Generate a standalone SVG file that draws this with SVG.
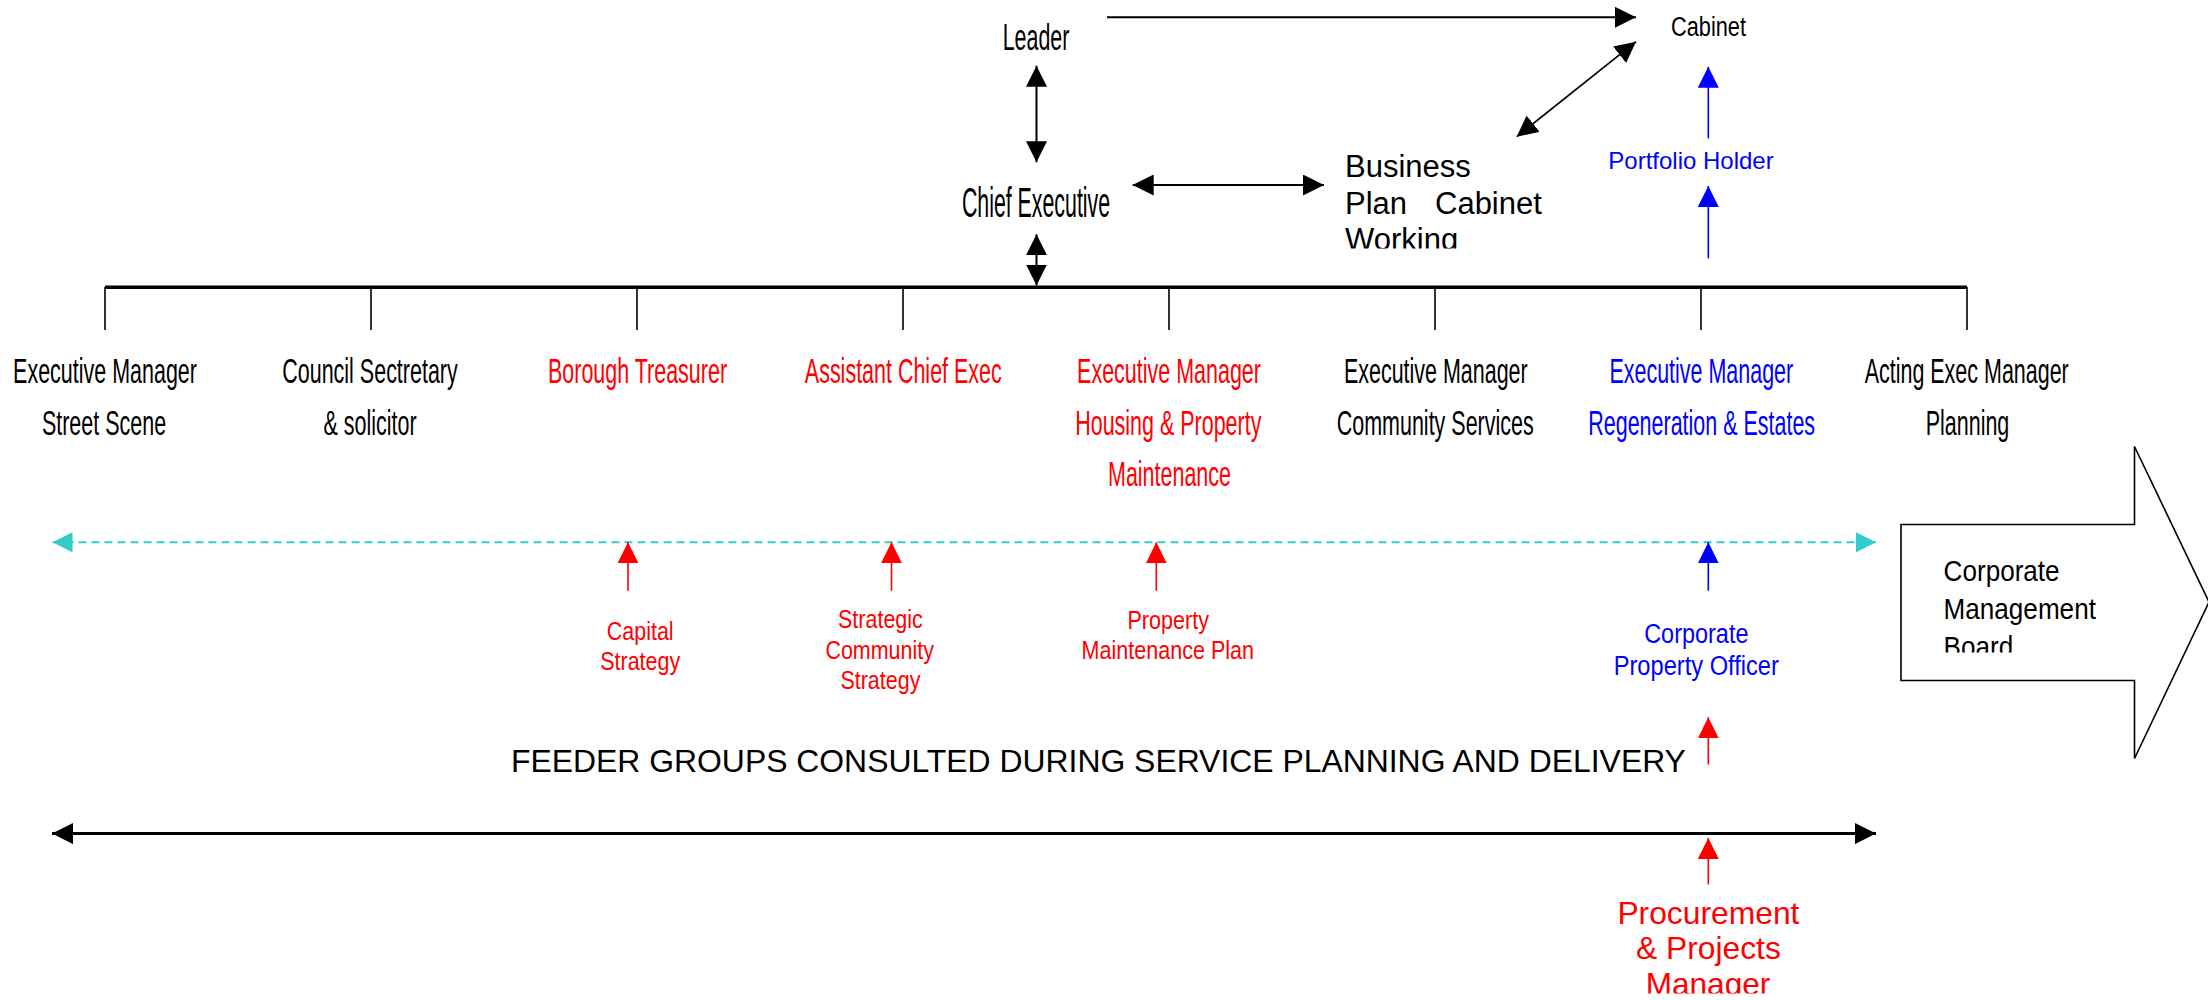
<svg xmlns="http://www.w3.org/2000/svg" width="2208" height="1000" viewBox="0 0 2208 1000">
<style>
text{font-family:"Liberation Sans",Arial,sans-serif}
.n{font-size:36px;text-anchor:middle}
.ce{font-size:42px;text-anchor:middle}
.s{font-size:26px;text-anchor:middle}
.m{font-size:28px;text-anchor:middle}
.w{font-size:31px}
.k{fill:#000}.r{fill:#f00}.b{fill:#00f}
.ln{stroke:#000;stroke-width:2;fill:none}
.thin{stroke:#000;stroke-width:1.6;fill:none}
.bar{stroke:#000;stroke-width:3.5;fill:none}
.rd{stroke:#f00;stroke-width:1.6;fill:none}
.bl{stroke:#00f;stroke-width:1.6;fill:none}
.cy{stroke:#33cccc;stroke-width:2;stroke-dasharray:8 5;fill:none}
.thick{stroke:#000;stroke-width:3;fill:none}
</style>
<defs>
<marker id="ak" markerUnits="userSpaceOnUse" markerWidth="21" markerHeight="21" viewBox="0 0 21 21" refX="21" refY="10.5" orient="auto-start-reverse"><path d="M0,0 L21,10.5 L0,21 z" fill="#000"/></marker>
<marker id="ar" markerUnits="userSpaceOnUse" markerWidth="21" markerHeight="21" viewBox="0 0 21 21" refX="21" refY="10.5" orient="auto-start-reverse"><path d="M0,0 L21,10.5 L0,21 z" fill="#f00"/></marker>
<marker id="ab" markerUnits="userSpaceOnUse" markerWidth="21" markerHeight="21" viewBox="0 0 21 21" refX="21" refY="10.5" orient="auto-start-reverse"><path d="M0,0 L21,10.5 L0,21 z" fill="#00f"/></marker>
<marker id="ac" markerUnits="userSpaceOnUse" markerWidth="20" markerHeight="20" viewBox="0 0 20 20" refX="20" refY="10" orient="auto-start-reverse"><path d="M0,0 L20,10 L0,20 z" fill="#33cccc"/></marker>
<clipPath id="bpclip"><rect x="1330" y="140" width="260" height="108.5"/></clipPath>
<clipPath id="cmbclip"><rect x="1930" y="540" width="200" height="112.5"/></clipPath>
<clipPath id="pmclip"><rect x="1600" y="890" width="220" height="103.5"/></clipPath>
</defs>

<g id="connectors">
<line class="ln" x1="1107" y1="17.3" x2="1636" y2="17.3" marker-end="url(#ak)"/>
<line class="ln" x1="1036.5" y1="65.7" x2="1036.5" y2="162.3" marker-start="url(#ak)" marker-end="url(#ak)"/>
<line class="ln" x1="1132.7" y1="185" x2="1324" y2="185" marker-start="url(#ak)" marker-end="url(#ak)"/>
<line class="thin" x1="1516.7" y1="136.7" x2="1636" y2="41.7" marker-start="url(#ak)" marker-end="url(#ak)"/>
<line class="ln" x1="1036.5" y1="234.3" x2="1036.5" y2="285.5" marker-start="url(#ak)" marker-end="url(#ak)"/>
<line class="bar" x1="105" y1="287.3" x2="1967" y2="287.3"/>
<g class="thin">
<line x1="105" y1="287" x2="105" y2="330"/>
<line x1="371" y1="287" x2="371" y2="330"/>
<line x1="637" y1="287" x2="637" y2="330"/>
<line x1="903" y1="287" x2="903" y2="330"/>
<line x1="1169" y1="287" x2="1169" y2="330"/>
<line x1="1435" y1="287" x2="1435" y2="330"/>
<line x1="1701" y1="287" x2="1701" y2="330"/>
<line x1="1967" y1="287" x2="1967" y2="330"/>
</g>
<line class="bl" x1="1708.3" y1="138.3" x2="1708.3" y2="66.7" marker-end="url(#ab)"/>
<line class="bl" x1="1708.3" y1="258.3" x2="1708.3" y2="186" marker-end="url(#ab)"/>
<line class="cy" x1="52.5" y1="542.3" x2="1876" y2="542.3" marker-start="url(#ac)" marker-end="url(#ac)"/>
<line class="rd" x1="628" y1="590.7" x2="628" y2="542.3" marker-end="url(#ar)"/>
<line class="rd" x1="891.5" y1="590.7" x2="891.5" y2="542.3" marker-end="url(#ar)"/>
<line class="rd" x1="1156.3" y1="590.7" x2="1156.3" y2="542.3" marker-end="url(#ar)"/>
<line class="bl" x1="1708.3" y1="590.7" x2="1708.3" y2="542.3" marker-end="url(#ab)"/>
<line class="rd" x1="1708.3" y1="764.5" x2="1708.3" y2="717.3" marker-end="url(#ar)"/>
<line class="thick" x1="52" y1="833.6" x2="1876" y2="833.6" marker-start="url(#ak)" marker-end="url(#ak)"/>
<line class="rd" x1="1708.3" y1="884.5" x2="1708.3" y2="838" marker-end="url(#ar)"/>
</g>

<g id="leader"><text class="n k" transform="matrix(0.595 0 0 1 1036 0)" x="0" y="50">Leader</text></g>
<g id="chief-executive"><text class="ce k" transform="matrix(0.508 0 0 1 1036 0)" x="0" y="217">Chief Executive</text></g>
<g id="business-plan-cabinet-working" clip-path="url(#bpclip)">
<text class="w k" x="1345" y="177">Business</text>
<text class="w k" x="1345" y="213.5">Plan</text>
<text class="w k" x="1435" y="213.5">Cabinet</text>
<text class="w k" x="1345" y="250">Working</text>
</g>
<g id="cabinet"><text class="k" font-size="27" transform="matrix(0.806 0 0 1 1671 0)" x="0" y="36">Cabinet</text></g>
<g id="portfolio-holder"><text class="b" x="1608.3" y="169" font-size="24">Portfolio Holder</text></g>

<g id="em-street-scene">
<text class="n k" transform="matrix(0.597 0 0 1 105 0)" x="0" y="383.5">Executive Manager</text>
<text class="n k" transform="matrix(0.597 0 0 1 104 0)" x="0" y="435">Street Scene</text>
</g>
<g id="council-secretary">
<text class="n k" transform="matrix(0.597 0 0 1 370 0)" x="0" y="383.5">Council Sectretary</text>
<text class="n k" transform="matrix(0.597 0 0 1 370 0)" x="0" y="435">&amp; solicitor</text>
</g>
<g id="borough-treasurer">
<text class="n r" transform="matrix(0.597 0 0 1 637.5 0)" x="0" y="383.5">Borough Treasurer</text>
</g>
<g id="assistant-chief-exec">
<text class="n r" transform="matrix(0.597 0 0 1 903.3 0)" x="0" y="383.5">Assistant Chief Exec</text>
</g>
<g id="em-housing">
<text class="n r" transform="matrix(0.597 0 0 1 1169 0)" x="0" y="383.5">Executive Manager</text>
<text class="n r" transform="matrix(0.597 0 0 1 1168.3 0)" x="0" y="435">Housing &amp; Property</text>
<text class="n r" transform="matrix(0.597 0 0 1 1169.5 0)" x="0" y="486.5">Maintenance</text>
</g>
<g id="em-community">
<text class="n k" transform="matrix(0.597 0 0 1 1435.8 0)" x="0" y="383.5">Executive Manager</text>
<text class="n k" transform="matrix(0.597 0 0 1 1435.2 0)" x="0" y="435">Community Services</text>
</g>
<g id="em-regeneration">
<text class="n b" transform="matrix(0.597 0 0 1 1701.3 0)" x="0" y="383.5">Executive Manager</text>
<text class="n b" transform="matrix(0.597 0 0 1 1701.7 0)" x="0" y="435">Regeneration &amp; Estates</text>
</g>
<g id="acting-planning">
<text class="n k" transform="matrix(0.597 0 0 1 1966.7 0)" x="0" y="383.5">Acting Exec Manager</text>
<text class="n k" transform="matrix(0.597 0 0 1 1967.5 0)" x="0" y="435">Planning</text>
</g>

<g id="capital-strategy">
<text class="s r" transform="matrix(0.826 0 0 1 640.2 0)" x="0" y="640">Capital</text>
<text class="s r" transform="matrix(0.826 0 0 1 640.2 0)" x="0" y="670.5">Strategy</text>
</g>
<g id="strategic-community-strategy">
<text class="s r" transform="matrix(0.826 0 0 1 880.4 0)" x="0" y="628.5">Strategic</text>
<text class="s r" transform="matrix(0.826 0 0 1 879.7 0)" x="0" y="659">Community</text>
<text class="s r" transform="matrix(0.826 0 0 1 880.4 0)" x="0" y="689.3">Strategy</text>
</g>
<g id="property-maintenance-plan">
<text class="s r" transform="matrix(0.829 0 0 1 1168.2 0)" x="0" y="628.8">Property</text>
<text class="s r" transform="matrix(0.829 0 0 1 1167.8 0)" x="0" y="659">Maintenance Plan</text>
</g>
<g id="corporate-property-officer">
<text class="m b" transform="matrix(0.838 0 0 1 1696.3 0)" x="0" y="643">Corporate</text>
<text class="m b" transform="matrix(0.845 0 0 1 1696.3 0)" x="0" y="675.5">Property Officer</text>
</g>

<g id="feeder-groups"><text class="k" x="511" y="771.5" font-size="31.9">FEEDER GROUPS CONSULTED DURING SERVICE PLANNING AND DELIVERY</text></g>

<g id="corporate-management-board">
<polygon points="1901,524.5 2134.5,524.5 2134.5,446.5 2209,602 2134.5,758.5 2134.5,680.5 1901,680.5" fill="#fff" stroke="#000" stroke-width="1.6"/>
<g clip-path="url(#cmbclip)">
<text class="k" font-size="29" transform="matrix(0.9 0 0 1 1943.6 0)" x="0" y="581">Corporate</text>
<text class="k" font-size="29" transform="matrix(0.9 0 0 1 1943.6 0)" x="0" y="619">Management</text>
<text class="k" font-size="29" transform="matrix(0.9 0 0 1 1943.6 0)" x="0" y="657">Board</text>
</g>
</g>

<g id="procurement-projects-manager" clip-path="url(#pmclip)">
<text class="r" x="1708.4" y="924" font-size="31.8" text-anchor="middle">Procurement</text>
<text class="r" x="1708.4" y="959" font-size="31.8" text-anchor="middle">&amp; Projects</text>
<text class="r" x="1708" y="994.5" font-size="31.6" text-anchor="middle">Manager</text>
</g>
</svg>
